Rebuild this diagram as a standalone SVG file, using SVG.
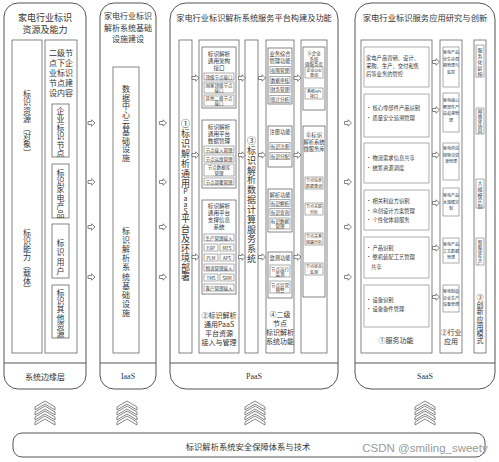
<svg xmlns="http://www.w3.org/2000/svg" xmlns:xlink="http://www.w3.org/1999/xlink" width="499" height="462" viewBox="0 0 499 462">
<style>
.o{fill:#fff;stroke:#555;stroke-width:1}
.b{fill:#fff;stroke:#666;stroke-width:0.8}
.s{fill:#fff;stroke:#777;stroke-width:0.6}
.ln{stroke:#555;stroke-width:1}
text{font-family:"Noto Sans CJK SC","Noto Sans",sans-serif;fill:#333;text-anchor:middle;dominant-baseline:central}
.lt{text-anchor:start}
.en{font-family:"Liberation Serif",serif}
.arr{fill:#fff;stroke:#555;stroke-width:0.7}
.chv{fill:#fff;stroke:#666;stroke-width:0.8}
.f9{font-size:9px}.f8{font-size:8px}.f7{font-size:7px}.f6{font-size:5.6px}.f5{font-size:5.3px}.f4{font-size:4.5px}.f3{font-size:4px}
</style>
<defs>
<path id="ar" class="arr" d="M-3.5,-1.5H0V-3.2L3.5,0L0,3.2V1.5H-3.5Z"/>
<g id="chev">
<polygon class="chv" points="0,6 10,0 20,6 20,9 10,3 0,9"/>
<polygon class="chv" points="0,11 10,5 20,11 20,14 10,8 0,14"/>
<polygon class="chv" points="0,16 10,10 20,16 20,19 10,13 0,19"/>
<polygon class="chv" points="0,21 10,15 20,21 20,24 10,18 0,24"/>
</g>
</defs>
<rect width="499" height="462" fill="#fff"/>

<g id="col-edge">
<rect class="o" x="4" y="3" width="82" height="386" rx="14"/>
<line class="ln" x1="4" y1="363" x2="86" y2="363"/>
<text class="f9" x="45" y="17">家电行业标识</text>
<text class="f9" x="45" y="29">资源及能力</text>
<rect class="b" x="12" y="40" width="30" height="313"/>
<rect class="b" x="45" y="40" width="32" height="313"/>
<text class="f8"><tspan x="27" y="93">标</tspan><tspan x="27" y="101.4">识</tspan><tspan x="27" y="109.8">资</tspan><tspan x="27" y="118.2">源</tspan><tspan x="27" y="126.6">︵</tspan><tspan x="27" y="135">对</tspan><tspan x="27" y="143.4">象</tspan><tspan x="27" y="151.8">︶</tspan></text>
<text class="f8"><tspan x="27" y="232">标</tspan><tspan x="27" y="240">识</tspan><tspan x="27" y="248">能</tspan><tspan x="27" y="256">力</tspan><tspan x="27" y="264">︵</tspan><tspan x="27" y="272">载</tspan><tspan x="27" y="280">体</tspan><tspan x="27" y="288">︶</tspan></text>
<text class="f8" x="61" y="52">二级节</text>
<text class="f8" x="61" y="62">点下企</text>
<text class="f8" x="61" y="72">业标识</text>
<text class="f8" x="61" y="82">节点建</text>
<text class="f8" x="61" y="92">设内容</text>
<rect class="b" x="52" y="104" width="17" height="53"/>
<text class="f8"><tspan x="60.5" y="110">企</tspan><tspan x="60.5" y="118.4">业</tspan><tspan x="60.5" y="126.8">标</tspan><tspan x="60.5" y="135.2">识</tspan><tspan x="60.5" y="143.6">节</tspan><tspan x="60.5" y="152">点</tspan></text>
<rect class="b" x="52" y="164" width="17" height="54"/>
<text class="f8"><tspan x="60.5" y="172">标</tspan><tspan x="60.5" y="180.2">识</tspan><tspan x="60.5" y="188.4">家</tspan><tspan x="60.5" y="196.6">电</tspan><tspan x="60.5" y="204.8">产</tspan><tspan x="60.5" y="213">品</tspan></text>
<rect class="b" x="52" y="224" width="17" height="54"/>
<text class="f8"><tspan x="60.5" y="242">标</tspan><tspan x="60.5" y="251.3">识</tspan><tspan x="60.5" y="260.6">用</tspan><tspan x="60.5" y="270">户</tspan></text>
<rect class="b" x="52" y="285" width="17" height="53"/>
<text class="f8"><tspan x="60.5" y="292">标</tspan><tspan x="60.5" y="300.2">识</tspan><tspan x="60.5" y="308.4">其</tspan><tspan x="60.5" y="316.6">他</tspan><tspan x="60.5" y="324.8">资</tspan><tspan x="60.5" y="333">源</tspan></text>
<text class="f8" x="45" y="376">系统边缘层</text>
</g>

<g id="col-iaas">
<rect class="o" x="100" y="3" width="56" height="386" rx="14"/>
<line class="ln" x1="100" y1="363" x2="156" y2="363"/>
<text class="f8" x="128" y="15">家电行业标识</text>
<text class="f8" x="128" y="27">解析系统基础</text>
<text class="f8" x="128" y="38">设施建设</text>
<rect class="b" x="113" y="67" width="26" height="286"/>
<text class="f8"><tspan x="126" y="88">数</tspan><tspan x="126" y="96.6">据</tspan><tspan x="126" y="105.3">中</tspan><tspan x="126" y="113.9">心</tspan><tspan x="126" y="122.5">云</tspan><tspan x="126" y="131.1">基</tspan><tspan x="126" y="139.8">础</tspan><tspan x="126" y="148.4">设</tspan><tspan x="126" y="157">施</tspan></text>
<text class="f8"><tspan x="126" y="230">标</tspan><tspan x="126" y="239.1">识</tspan><tspan x="126" y="248.2">解</tspan><tspan x="126" y="257.3">析</tspan><tspan x="126" y="266.4">系</tspan><tspan x="126" y="275.6">统</tspan><tspan x="126" y="284.7">基</tspan><tspan x="126" y="293.8">础</tspan><tspan x="126" y="302.9">设</tspan><tspan x="126" y="312">施</tspan></text>
<text class="f8 en" x="128" y="376">IaaS</text>
</g>

<g id="col-paas">
<rect class="o" x="170" y="3" width="168" height="386" rx="16"/>
<line class="ln" x1="170" y1="363" x2="338" y2="363"/>
<text style="font-size:8.2px" x="254" y="17">家电行业标识解析系统服务平台构建及功能</text>
<text class="f8 en" x="254" y="376">PaaS</text>

<g id="paas-deploy">
<rect class="b" x="179" y="40" width="13" height="313"/>
<text class="f9"><tspan x="185.5" y="123">①</tspan><tspan x="185.5" y="133">标</tspan><tspan x="185.5" y="143">识</tspan><tspan x="185.5" y="153">解</tspan><tspan x="185.5" y="163">析</tspan><tspan x="185.5" y="173">通</tspan><tspan x="185.5" y="183">用</tspan><tspan x="185.5" y="190.5" style="font-size:7px">P</tspan><tspan x="185.5" y="197.5" style="font-size:7px">a</tspan><tspan x="185.5" y="204" style="font-size:7px">a</tspan><tspan x="185.5" y="210.5" style="font-size:7px">S</tspan><tspan x="185.5" y="218">平</tspan><tspan x="185.5" y="228">台</tspan><tspan x="185.5" y="238">及</tspan><tspan x="185.5" y="247.5">环</tspan><tspan x="185.5" y="257">境</tspan><tspan x="185.5" y="266.5">部</tspan><tspan x="185.5" y="276">署</tspan></text>
</g>

<g id="paas-resource">
<rect class="b" x="199" y="40" width="40" height="313"/>
<rect class="b" x="202" y="47" width="34" height="61"/>
<text class="f6" x="219" y="54">标识解析</text>
<text class="f6" x="219" y="61">通用架构</text>
<text class="f6" x="219" y="68">接口</text>
<rect class="s" x="204" y="73" width="30" height="7"/>
<text class="f4" x="219" y="76.5">顶级节点接口</text>
<rect class="s" x="204" y="82" width="30" height="11"/>
<text class="f4" x="219" y="85">国家顶级节点</text>
<text class="f4" x="219" y="90">接口</text>
<rect class="s" x="204" y="95" width="30" height="11"/>
<text class="f4" x="219" y="98">其他二级节点</text>
<text class="f4" x="219" y="103">接口</text>

<rect class="b" x="202" y="120" width="34" height="68"/>
<text class="f6" x="219" y="127">标识解析</text>
<text class="f6" x="219" y="134">通用平台</text>
<text class="f6" x="219" y="141">数据管理</text>
<rect class="s" x="204" y="146" width="30" height="7"/>
<text class="f4" x="219" y="149.5">节点接入管理</text>
<rect class="s" x="204" y="155" width="30" height="7"/>
<text class="f4" x="219" y="158.5">节点运维管理</text>
<rect class="s" x="204" y="164" width="30" height="12"/>
<text class="f4" x="219" y="167.3">节点数据库</text>
<text class="f4" x="219" y="172.7">管理</text>
<rect class="s" x="204" y="178" width="30" height="7"/>
<text class="f4" x="219" y="181.5">节点部署管理</text>

<rect class="b" x="202" y="200" width="34" height="94"/>
<text class="f6" x="219" y="206">标识解析</text>
<text class="f6" x="219" y="213">通用平台</text>
<text class="f6" x="219" y="220">支撑信息</text>
<text class="f6" x="219" y="227">系统</text>
<rect class="s" x="204" y="234" width="30" height="7"/>
<text class="f4" x="219" y="237.5">生产管理接入</text>
<rect class="s" x="204" y="244" width="14" height="7"/>
<text class="f4" x="211" y="247.5">ERP</text>
<rect class="s" x="220" y="244" width="14" height="7"/>
<text class="f4" x="227" y="247.5">MES</text>
<rect class="s" x="204" y="254" width="14" height="7"/>
<text class="f4" x="211" y="257.5">PLM</text>
<rect class="s" x="220" y="254" width="14" height="7"/>
<text class="f4" x="227" y="257.5">APS</text>
<rect class="s" x="204" y="264" width="30" height="7"/>
<text class="f4" x="219" y="267.5">物流管理接入</text>
<rect class="s" x="204" y="274" width="14" height="7"/>
<text class="f4" x="211" y="277.5">TMS</text>
<rect class="s" x="220" y="274" width="14" height="7"/>
<text class="f4" x="227" y="277.5">SRM</text>
<rect class="s" x="204" y="284" width="30" height="7"/>
<text class="f4" x="219" y="287.5">客户管理接入</text>
<text class="f7" x="219" y="315">②标识解析</text>
<text class="f7" x="219" y="324">通用PaaS</text>
<text class="f7" x="219" y="333">平台资源</text>
<text class="f7" x="219" y="342">接入与管理</text>
</g>

<g id="paas-compute">
<rect class="b" x="245" y="40" width="13" height="313"/>
<text class="f9"><tspan x="251.5" y="140">③</tspan><tspan x="251.5" y="149.8">标</tspan><tspan x="251.5" y="159.7">识</tspan><tspan x="251.5" y="169.5">解</tspan><tspan x="251.5" y="179.3">析</tspan><tspan x="251.5" y="189.2">数</tspan><tspan x="251.5" y="199">据</tspan><tspan x="251.5" y="208.8">计</tspan><tspan x="251.5" y="218.7">算</tspan><tspan x="251.5" y="228.5">服</tspan><tspan x="251.5" y="238.3">务</tspan><tspan x="251.5" y="248.2">系</tspan><tspan x="251.5" y="258">统</tspan></text>
</g>

<g id="paas-node">
<rect class="b" x="266" y="40" width="28" height="313"/>
<rect class="b" x="268" y="48" width="24" height="56"/>
<text class="f5" x="280" y="54">业务综合</text>
<text class="f5" x="280" y="61">管理功能</text>
<rect class="s" x="270" y="66.5" width="20" height="7"/>
<text class="f4" x="280" y="70">权限管理</text>
<rect class="s" x="270" y="76.5" width="20" height="7"/>
<text class="f4" x="280" y="80">数据审核</text>
<rect class="s" x="270" y="85.5" width="20" height="7"/>
<text class="f4" x="280" y="89">财务管理</text>
<rect class="s" x="270" y="95.5" width="20" height="7"/>
<text class="f4" x="280" y="99">统计分析</text>

<rect class="b" x="268" y="126" width="24" height="41"/>
<text class="f5" x="280" y="132">注册功能</text>
<rect class="s" x="270" y="142.5" width="20" height="7"/>
<text class="f4" x="280" y="146">标识注册</text>
<rect class="s" x="270" y="152.5" width="20" height="7"/>
<text class="f4" x="280" y="156">标识分配</text>

<rect class="b" x="268" y="189" width="24" height="43"/>
<text class="f5" x="280" y="195">解析功能</text>
<rect class="s" x="270" y="199.5" width="20" height="7"/>
<text class="f4" x="280" y="203">标识解析</text>
<rect class="s" x="270" y="208.5" width="20" height="7"/>
<text class="f4" x="280" y="212">标识查询</text>
<rect class="s" x="270" y="218" width="20" height="11"/>
<text class="f4" x="280" y="221">标识数据</text>
<text class="f4" x="280" y="226.3">管理</text>

<rect class="b" x="268" y="252" width="24" height="46"/>
<text class="f5" x="280" y="258">监测功能</text>
<rect class="s" x="270" y="265" width="20" height="12"/>
<text class="f4" x="280" y="268.5">节点运行</text>
<text class="f4" x="280" y="273.8">监测</text>
<rect class="s" x="270" y="281" width="20" height="12"/>
<text class="f4" x="280" y="284.5">节点异常</text>
<text class="f4" x="280" y="289.8">预警</text>
<text class="f7" x="280" y="314">④二级</text>
<text class="f7" x="280" y="323">节点</text>
<text class="f7" x="280" y="332">标识解析</text>
<text class="f7" x="280" y="341">系统功能</text>
</g>

<g id="paas-micro">
<rect class="b" x="301" y="40" width="26" height="313"/>
<rect class="b" x="303" y="47" width="22" height="63"/>
<text class="f4" x="314" y="53">⑤企业</text>
<text class="f4" x="314" y="58.5">系统</text>
<text class="f4" x="314" y="64">微服务库</text>
<rect class="s" x="305" y="67" width="18" height="11"/>
<text class="f3" x="314" y="70">企业OID</text>
<text class="f3" x="314" y="75">查询</text>
<rect class="s" x="305" y="88" width="18" height="11"/>
<text class="f3" x="314" y="91">系统API</text>
<text class="f3" x="314" y="96">接口</text>

<rect class="b" x="303" y="126" width="22" height="171"/>
<text class="f5" x="314" y="135">⑥标识</text>
<text class="f5" x="314" y="142">解析系统</text>
<text class="f5" x="314" y="149">微服务库</text>
<rect class="s" x="305" y="177" width="18" height="12"/>
<text class="f3" x="314" y="180.3">节点信息</text>
<text class="f3" x="314" y="185.6">数据查询</text>
<rect class="s" x="305" y="203" width="18" height="12"/>
<text class="f3" x="314" y="206.3">节点关联</text>
<text class="f3" x="314" y="211.6">分析</text>
<rect class="s" x="305" y="233" width="18" height="12"/>
<text class="f3" x="314" y="236.3">节点关系</text>
<text class="f3" x="314" y="241.6">链路分析</text>
<rect class="s" x="305" y="263" width="18" height="12"/>
<text class="f3" x="314" y="266.3">节点状态</text>
<text class="f3" x="314" y="271.6">监测</text>
</g>
</g>

<g id="col-saas">
<rect class="o" x="355" y="3" width="140" height="386" rx="16"/>
<line class="ln" x1="355" y1="363" x2="495" y2="363"/>
<text style="font-size:8.3px" x="425" y="17">家电行业标识服务应用研究与创新</text>
<text class="f8 en" x="425" y="376">SaaS</text>

<g id="saas-service">
<rect class="b" x="361" y="40" width="71" height="313"/>
<rect class="s" x="364" y="47" width="65" height="40"/>
<text class="f5 lt" x="366" y="58">家电产品营销、设计、</text>
<text class="f5 lt" x="366" y="66">采购、生产、交付和售</text>
<text class="f5 lt" x="366" y="74">后等业务的管控</text>
<rect class="s" x="364" y="94" width="65" height="43"/>
<text class="f5 lt" x="366" y="108">• 核心零部件产品识别</text>
<text class="f5 lt" x="366" y="118">• 质量安全追溯管理</text>
<rect class="s" x="364" y="143" width="65" height="40"/>
<text class="f5 lt" x="366" y="158">• 物流需求信息共享</text>
<text class="f5 lt" x="366" y="168">• 统筹资源调度</text>
<rect class="s" x="364" y="190" width="65" height="40"/>
<text class="f5 lt" x="366" y="201">• 相关利益方识别</text>
<text class="f5 lt" x="366" y="211">• 众创设计方案管理</text>
<text class="f5 lt" x="366" y="220">• 个性化体验服务</text>
<rect class="s" x="364" y="237" width="65" height="41"/>
<text class="f5 lt" x="366" y="248">• 产品识别</text>
<text class="f5 lt" x="366" y="257">• 整机装配工艺管理</text>
<text class="f5 lt" x="371" y="267">共享</text>
<rect class="s" x="364" y="285" width="65" height="42"/>
<text class="f5 lt" x="366" y="300">• 设备识别</text>
<text class="f5 lt" x="366" y="309">• 设备备件管理</text>
<text class="f7" x="396" y="340">①服务功能</text>
</g>

<g id="saas-industry">
<rect class="b" x="440" y="40" width="22" height="313"/>
<rect class="s" x="443" y="47" width="16" height="40"/>
<text class="f3" x="451" y="52">家电产品</text>
<text class="f3" x="451" y="58.5">全生命周</text>
<text class="f3" x="451" y="65">期管理与</text>
<text class="f3" x="451" y="71.5">监控</text>
<rect class="s" x="443" y="93" width="16" height="39"/>
<text class="f3" x="451" y="100">家电核心</text>
<text class="f3" x="451" y="106.5">零部件产</text>
<text class="f3" x="451" y="113">品追溯管</text>
<text class="f3" x="451" y="119.5">理</text>
<rect class="s" x="443" y="143" width="16" height="37"/>
<text class="f3" x="451" y="148">家电供应</text>
<text class="f3" x="451" y="154.5">链物流资</text>
<text class="f3" x="451" y="161">源管理</text>
<rect class="s" x="443" y="188" width="16" height="28"/>
<text class="f3" x="451" y="195">家电产品</text>
<text class="f3" x="451" y="201.5">大规模定</text>
<text class="f3" x="451" y="208">制</text>
<rect class="s" x="443" y="238" width="16" height="25"/>
<text class="f3" x="451" y="244">家电产品</text>
<text class="f3" x="451" y="250.5">工艺数据</text>
<text class="f3" x="451" y="257">管理</text>
<rect class="s" x="443" y="285" width="16" height="27"/>
<text class="f3" x="451" y="291">家电制造</text>
<text class="f3" x="451" y="297.5">企业生产</text>
<text class="f3" x="451" y="304">设备管理</text>
<text class="f7" x="451" y="332">②行业</text>
<text class="f7" x="451" y="341">应用</text>
</g>

<g id="saas-mode">
<rect class="b" x="474" y="40" width="12" height="313"/>
<rect class="s" x="476" y="45" width="8" height="32"/>
<text style="font-size:5px"><tspan x="480" y="49">服</tspan><tspan x="480" y="55">务</tspan><tspan x="480" y="61">化</tspan><tspan x="480" y="67">延</tspan><tspan x="480" y="73">伸</tspan></text>
<rect class="s" x="476" y="108" width="8" height="26"/>
<text style="font-size:4.6px"><tspan x="480" y="111">网</tspan><tspan x="480" y="116">络</tspan><tspan x="480" y="121">化</tspan><tspan x="480" y="126">协</tspan><tspan x="480" y="131">同</tspan></text>
<rect class="s" x="476" y="179" width="8" height="29"/>
<text style="font-size:5px"><tspan x="480" y="182">大</tspan><tspan x="480" y="187.8">规</tspan><tspan x="480" y="193.5">模</tspan><tspan x="480" y="199.3">定</tspan><tspan x="480" y="205">制</tspan></text>
<rect class="s" x="476" y="238" width="8" height="27"/>
<text style="font-size:4.6px"><tspan x="480" y="241.5">智</tspan><tspan x="480" y="246.5">能</tspan><tspan x="480" y="251.5">化</tspan><tspan x="480" y="256.5">生</tspan><tspan x="480" y="261.5">产</tspan></text>
<text class="f7"><tspan x="480" y="297">③</tspan><tspan x="480" y="304.2">创</tspan><tspan x="480" y="311.3">新</tspan><tspan x="480" y="318.5">应</tspan><tspan x="480" y="325.7">用</tspan><tspan x="480" y="332.8">模</tspan><tspan x="480" y="340">式</tspan></text>
</g>
</g>

<g id="connectors">
<use href="#ar" x="91.5" y="123"/><use href="#ar" x="91.5" y="182"/><use href="#ar" x="91.5" y="227"/><use href="#ar" x="91.5" y="277"/>
<use href="#ar" x="163" y="123"/><use href="#ar" x="163" y="182"/><use href="#ar" x="163" y="227"/><use href="#ar" x="163" y="277"/>
<use href="#ar" x="348" y="123"/><use href="#ar" x="348" y="182"/><use href="#ar" x="348" y="227"/><use href="#ar" x="348" y="277"/>
<use href="#ar" x="195.5" y="78"/><use href="#ar" x="195.5" y="155"/><use href="#ar" x="195.5" y="257"/>
<use href="#ar" x="242" y="78"/><use href="#ar" x="242" y="155"/><use href="#ar" x="242" y="257"/>
<use href="#ar" x="262" y="78"/><use href="#ar" x="262" y="155"/><use href="#ar" x="262" y="257"/>
<use href="#ar" x="297.5" y="78"/><use href="#ar" x="297.5" y="155"/><use href="#ar" x="297.5" y="257"/>
<use href="#ar" x="436" y="62"/><use href="#ar" x="436" y="110"/><use href="#ar" x="436" y="155"/><use href="#ar" x="436" y="203"/><use href="#ar" x="436" y="248"/><use href="#ar" x="436" y="297"/>
<use href="#chev" x="35" y="401"/>
<use href="#chev" x="117" y="401"/>
<use href="#chev" x="245" y="401"/>
<use href="#chev" x="415" y="401"/>
</g>

<g id="security">
<rect class="o" x="13" y="433" width="472" height="24" rx="9"/>
<text style="font-size:8.3px" x="248" y="446">标识解析系统安全保障体系与技术</text>
</g>
<text x="425" y="448" style="font-family:'Liberation Sans',sans-serif;font-size:11.5px;fill:#9a9a9a">CSDN @smiling_sweety</text>
</svg>
